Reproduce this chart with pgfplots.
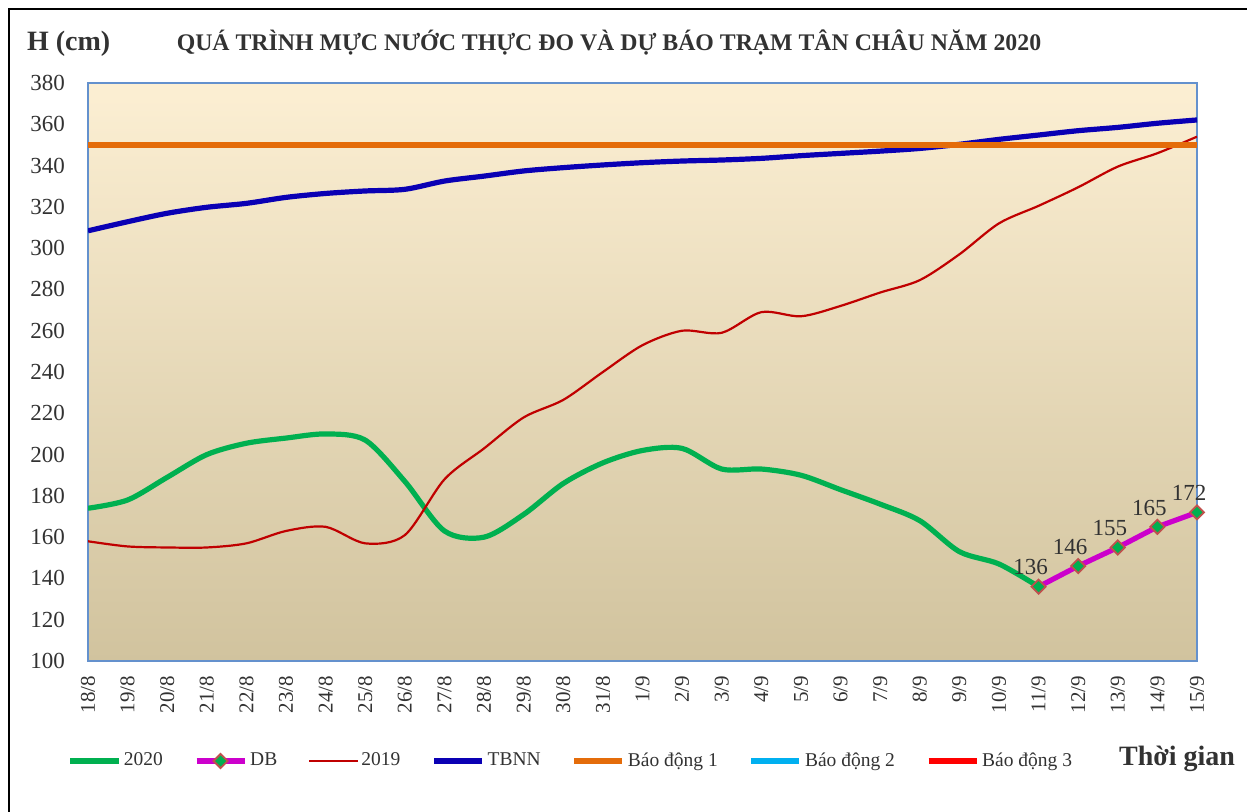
\documentclass[border=0pt]{standalone}
\usepackage{fontspec}
\setmainfont{Liberation Serif}
\usepackage{pgfplots}
\pgfplotsset{compat=1.18}
\definecolor{cGreen}{RGB}{0,176,80}
\definecolor{cMag}{RGB}{204,0,204}
\definecolor{cRed19}{RGB}{192,0,0}
\definecolor{cBlue}{RGB}{10,0,180}
\definecolor{cOrange}{RGB}{228,108,10}
\definecolor{cCyan}{RGB}{0,176,240}
\definecolor{cRed3}{RGB}{255,0,0}
\definecolor{cMk}{RGB}{192,80,77}
\definecolor{cAxis}{RGB}{100,145,205}
\definecolor{cText}{RGB}{50,50,50}
\definecolor{bgTop}{RGB}{252,239,211}
\definecolor{bgMid}{RGB}{242,235,212}
\definecolor{bgBot}{RGB}{209,195,158}
\begin{document}
\begin{tikzpicture}
\path[use as bounding box] (0pt,0pt) rectangle (623.5pt,405.5pt);
\draw[black, line width=0.8pt] (4.5pt,-3pt) -- (4.5pt,401pt) -- (627pt,401pt);
\node[anchor=west, font=\bfseries\fontsize{14}{16}\selectfont, text=cText] at (10pt,383.5pt) {H (cm)};
\node[font=\bfseries\fontsize{11.9}{13}\selectfont, text=cText] at (304.5pt,384pt) {QUÁ TRÌNH MỰC NƯỚC THỰC ĐO VÀ DỰ BÁO TRẠM TÂN CHÂU NĂM 2020};
\node[anchor=west, font=\bfseries\fontsize{14}{16}\selectfont, text=cText] at (556pt,26pt) {Thời gian};
\begin{axis}[
  at={(44pt,75pt)}, anchor=south west, scale only axis,
  width=554.5pt, height=289pt,
  xmin=0, xmax=28, ymin=100, ymax=380,
  ytick={100,120,...,380},
  xtick={0,...,28},
  xticklabels={18/8,19/8,20/8,21/8,22/8,23/8,24/8,25/8,26/8,27/8,28/8,29/8,30/8,31/8,1/9,2/9,3/9,4/9,5/9,6/9,7/9,8/9,9/9,10/9,11/9,12/9,13/9,14/9,15/9},
  x tick label style={rotate=90, anchor=east, font=\fontsize{10.5}{12}\selectfont, text=cText},
  y tick label style={font=\fontsize{11.5}{13}\selectfont, text=cText},
  /pgf/number format/assume math mode=true,
  major tick length=0pt,
  xticklabel shift=4pt, yticklabel shift=8pt,
  axis line style={draw=cAxis, line width=1pt},
  axis background/.style={top color=bgTop, middle color=bgMid, bottom color=bgBot},
  legend columns=7,
  legend style={at={(-0.024,-0.173)}, anchor=west, draw=none, fill=none,
    font=\fontsize{9.75}{11}\selectfont, text=cText,
    /tikz/every even column/.append style={column sep=14pt},
    nodes={inner sep=1.5pt}},
  legend image code/.code={\draw[mark repeat=2,mark phase=2,#1] plot coordinates {(0pt,0pt)(12pt,0pt)(24pt,0pt)};},
  clip=true,
]
\addplot[cGreen, line width=2.6pt, smooth, tension=0.5] coordinates {
(0,174)(1,178)(2,189)(3,200)(4,205.5)(5,208)(6,210)(7,207)(8,187)(9,163)(10,160)(11,171)(12,186)(13,196)(14,202)(15,203)(16,193)(17,193)(18,190)(19,183)(20,176)(21,168)(22,153)(23,147)(24,136)};
\addlegendentry{2020}
\addplot[cMag, line width=2.6pt, mark=square*, mark size=2.5pt,
  mark options={fill=cGreen, draw=cMk, line width=0.9pt, rotate=45},
  nodes near coords, point meta=explicit symbolic,
  every node near coord/.append style={font=\fontsize{11.5}{12}\selectfont, text=cText, anchor=south, yshift=2pt, xshift=-4pt}] coordinates {
(24,136)[136](25,146)[146](26,155)[155](27,165)[165](28,172)[172]};
\addlegendentry{DB}
\addplot[cRed19, line width=1.1pt, smooth, tension=0.5] coordinates {
(0,158)(1,155.5)(2,155)(3,155)(4,157)(5,163)(6,165)(7,157)(8,161)(9,188)(10,203)(11,218)(12,226.5)(13,240)(14,253)(15,260)(16,259)(17,269)(18,267)(19,272)(20,278.5)(21,284.5)(22,297)(23,312)(24,320.5)(25,329.5)(26,339.5)(27,346)(28,354)};
\addlegendentry{2019}
\addplot[cBlue, line width=2.6pt, smooth, tension=0.5] coordinates {
(0,308.4)(1,312.8)(2,316.9)(3,319.8)(4,321.7)(5,324.6)(6,326.5)(7,327.7)(8,328.5)(9,332.5)(10,334.9)(11,337.4)(12,339)(13,340.3)(14,341.4)(15,342.2)(16,342.7)(17,343.5)(18,344.8)(19,345.9)(20,347)(21,348.3)(22,350.3)(23,352.7)(24,354.8)(25,356.9)(26,358.5)(27,360.5)(28,362.1)};
\addlegendentry{TBNN}
\addplot[cOrange, line width=2.6pt] coordinates {(0,350)(28,350)};
\addlegendentry{Báo động 1}
\addplot[cCyan, line width=2.6pt] coordinates {(0,400)(28,400)};
\addlegendentry{Báo động 2}
\addplot[cRed3, line width=2.6pt] coordinates {(0,450)(28,450)};
\addlegendentry{Báo động 3}
\end{axis}
\end{tikzpicture}
\end{document}
